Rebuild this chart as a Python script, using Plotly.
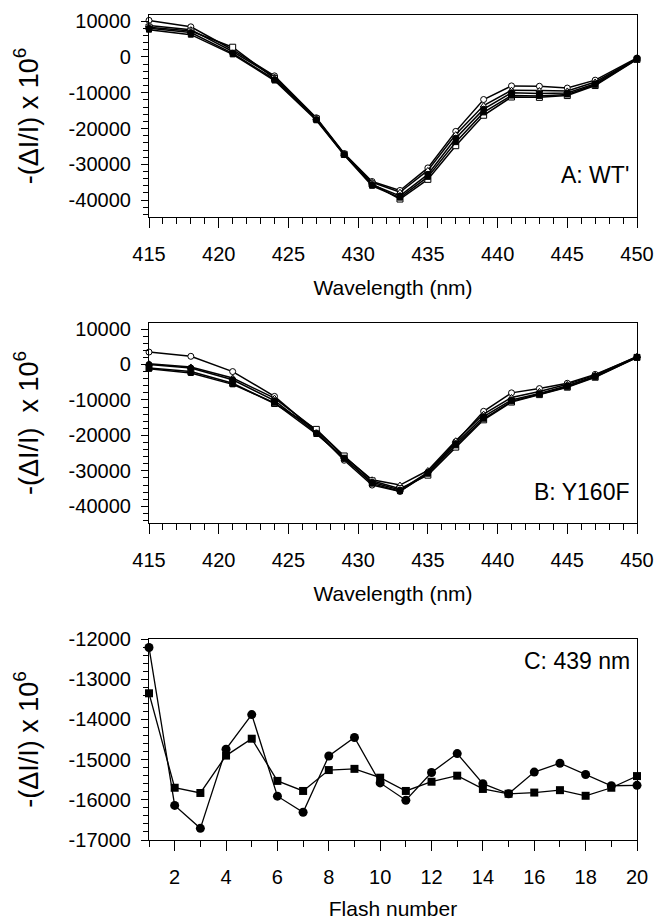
import plotly.graph_objects as go

# ---------- data ----------
wavelength = [415, 418, 421, 424, 427, 429, 431, 433, 435, 437, 439, 441, 443, 445, 447, 450]

wt_s1 = [10200, 8400, 2000, -5300, -17000, -27000, -34800, -37300, -31000, -20800, -11900, -8100, -8200, -8700, -6500, -300]
wt_s2 = [8800, 7600, 1500, -5600, -17200, -27100, -35000, -37800, -31700, -21700, -13600, -9300, -9400, -9500, -7000, -500]
wt_s3 = [8300, 7200, 2700, -6000, -17300, -27200, -35500, -39700, -34200, -24800, -16300, -11200, -11300, -10800, -8000, -700]
wt_s4 = [8000, 6800, 1000, -6300, -17500, -27300, -35700, -38800, -32800, -22700, -14600, -10000, -10200, -10100, -7500, -400]
wt_s5 = [7600, 6200, 700, -6600, -17700, -27400, -36000, -39300, -33500, -23800, -15500, -10800, -10900, -10500, -7800, -600]

y160f_s1 = [3500, 2300, -2000, -9000, -19000, -27000, -34000, -35800, -30500, -21800, -13200, -8000, -6800, -5300, -2800, 2100]
y160f_s2 = [200, -700, -3800, -9500, -18500, -26000, -32500, -34000, -29900, -21500, -14000, -9300, -7600, -5600, -3000, 2300]
y160f_s3 = [-1000, -2000, -5300, -11000, -18300, -25800, -32800, -35000, -31200, -23300, -15600, -10600, -8500, -6400, -3600, 2000]
y160f_s4 = [0, -1000, -4300, -10200, -19300, -26600, -33200, -35400, -30400, -22300, -14700, -10000, -8200, -6000, -3300, 2100]
y160f_s5 = [-1200, -2400, -5600, -10800, -19600, -26300, -33600, -35700, -30800, -22800, -15300, -10400, -8400, -6300, -3500, 2000]

flash = list(range(1, 21))
c_circle = [-12210, -16140, -16710, -14740, -13880, -15910, -16310, -14910, -14450, -15580,
            -16010, -15320, -14850, -15600, -15850, -15310, -15090, -15370, -15650, -15640]
c_square = [-13350, -15700, -15830, -14900, -14480, -15530, -15780, -15260, -15230, -15450,
            -15780, -15550, -15400, -15730, -15850, -15820, -15760, -15900, -15700, -15410]

# tick labels
wl_ticks = [415, 420, 425, 430, 435, 440, 445, 450]
wl_ticktext = ["415", "420", "425", "430", "435", "440", "445", "450"]
spec_yticks = [10000, 0, -10000, -20000, -30000, -40000]
spec_yticktext = ["10000", "0", "-10000", "-20000", "-30000", "-40000"]
flash_ticks = [2, 4, 6, 8, 10, 12, 14, 16, 18, 20]
flash_ticktext = ["2", "4", "6", "8", "10", "12", "14", "16", "18", "20"]
c_yticks = [-12000, -13000, -14000, -15000, -16000, -17000]
c_yticktext = ["-12000", "-13000", "-14000", "-15000", "-16000", "-17000"]

# ---------- style ----------
FONT = "Liberation Sans, Arial, Helvetica, sans-serif"
styles = [
    dict(symbol="circle", color="white", size=6),
    dict(symbol="triangle-up", color="white", size=6),
    dict(symbol="square", color="white", size=6),
    dict(symbol="circle", color="black", size=6),
    dict(symbol="square", color="black", size=5),
]

fig = go.Figure()

def add_spectra(series, xa, ya):
    for s, st in zip(series, styles):
        fig.add_trace(go.Scatter(
            x=wavelength, y=s, xaxis=xa, yaxis=ya, mode="lines+markers",
            line=dict(color="black", width=1.5),
            marker=dict(symbol=st["symbol"], color=st["color"], size=st["size"],
                        line=dict(color="black", width=1)),
            showlegend=False, cliponaxis=False))

add_spectra([wt_s1, wt_s2, wt_s3, wt_s4, wt_s5], "x", "y")
add_spectra([y160f_s1, y160f_s2, y160f_s3, y160f_s4, y160f_s5], "x2", "y2")

fig.add_trace(go.Scatter(x=flash, y=c_circle, xaxis="x3", yaxis="y3", mode="lines+markers",
                         line=dict(color="black", width=1.3),
                         marker=dict(symbol="circle", color="black", size=9),
                         showlegend=False, cliponaxis=False))
fig.add_trace(go.Scatter(x=flash, y=c_square, xaxis="x3", yaxis="y3", mode="lines+markers",
                         line=dict(color="black", width=1.3),
                         marker=dict(symbol="square", color="black", size=8),
                         showlegend=False, cliponaxis=False))

ytitle_a = "-(ΔI/I) x 10<sup>6</sup>"
ytitle_b = "-(ΔI/I)  x 10<sup>6</sup>"

def xax(anchor, rng, tickvals, ticktext, tick0, minor_dtick, title):
    return dict(
        domain=[0, 1], anchor=anchor, range=rng, automargin=False,
        showline=True, linecolor="black", linewidth=1.2, mirror=True,
        ticks="outside", ticklen=10, tickwidth=1.2, tickcolor="black",
        tickmode="array", tickvals=tickvals, ticktext=ticktext,
        showgrid=False, zeroline=False,
        minor=dict(tickmode="linear", dtick=minor_dtick, tick0=tick0, ticks="outside", ticklen=6,
                   tickwidth=1.2, tickcolor="black", showgrid=False),
        tickfont=dict(family=FONT, size=20, color="black"),
        ticklabelstandoff=9,
        title=dict(text=title, font=dict(family=FONT, size=21, color="black"), standoff=16),
    )

def yax(domain, anchor, rng, tickvals, ticktext, minor_dtick, title):
    return dict(
        domain=domain, anchor=anchor, range=rng, automargin=False,
        showline=True, linecolor="black", linewidth=1.2, mirror=True,
        ticks="outside", ticklen=7, tickwidth=1.2, tickcolor="black",
        tickmode="array", tickvals=tickvals, ticktext=ticktext,
        showgrid=False, zeroline=False,
        minor=dict(tickmode="linear", dtick=minor_dtick, tick0=0, ticks="outside", ticklen=5,
                   tickwidth=1.2, tickcolor="black", showgrid=False),
        tickfont=dict(family=FONT, size=20, color="black"),
        ticklabelstandoff=6,
        title=dict(text=title, font=dict(family=FONT, size=27, color="black"), standoff=22),
    )

fig.update_layout(
    width=655, height=920,
    margin=dict(l=149, r=18, t=15, b=80),
    paper_bgcolor="white", plot_bgcolor="white",
    font=dict(family=FONT, color="black"),
    xaxis=xax("y", [415, 450], wl_ticks, wl_ticktext, 415, 1, "Wavelength (nm)"),
    yaxis=yax([0.7552, 1.0], "x", [-44700, 11700], spec_yticks, spec_yticktext, 2000, ytitle_a),
    xaxis2=xax("y2", [415, 450], wl_ticks, wl_ticktext, 415, 1, "Wavelength (nm)"),
    yaxis2=yax([0.3842, 0.6267], "x2", [-44700, 11700], spec_yticks, spec_yticktext, 2000, ytitle_b),
    xaxis3=xax("y3", [1, 20], flash_ticks, flash_ticktext, 0, 1, "Flash number"),
    yaxis3=yax([0.0, 0.2436], "x3", [-17000, -12000], c_yticks, c_yticktext, 200, ytitle_a),
    annotations=[
        dict(text="A: WT'", xref="x", yref="y", x=449.6, y=-33000, xanchor="right",
             showarrow=False, font=dict(family=FONT, size=23, color="black")),
        dict(text="B: Y160F", xref="x2", yref="y2", x=449.6, y=-36000, xanchor="right",
             showarrow=False, font=dict(family=FONT, size=23, color="black")),
        dict(text="C: 439 nm", xref="x3", yref="y3", x=19.8, y=-12550, xanchor="right",
             showarrow=False, font=dict(family=FONT, size=23, color="black")),
    ],
)

# remove the default 8px page margin so the figure fills the window exactly
fig.write_html("out.html", config={"displayModeBar": False},
               post_script="document.body.style.margin='0';document.body.style.overflow='hidden';")
